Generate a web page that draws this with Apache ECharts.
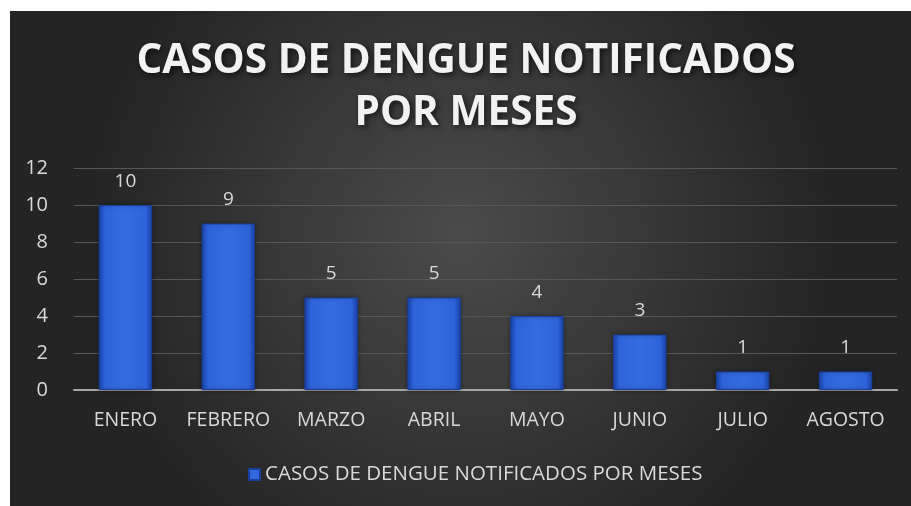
<!DOCTYPE html>
<html><head><meta charset="utf-8">
<script src="https://cdn.jsdelivr.net/npm/echarts@6/dist/echarts.min.js"></script>
<style>
html,body{margin:0;padding:0;background:#fff;width:911px;height:506px;overflow:hidden}
#c{position:absolute;left:10px;top:11px;width:901px;height:495px}
</style></head><body>
<div id="c"></div>
<script>
const categories = ['ENERO','FEBRERO','MARZO','ABRIL','MAYO','JUNIO','JULIO','AGOSTO'];
const values = [10, 9, 5, 5, 4, 3, 1, 1];
const seriesName = 'CASOS DE DENGUE NOTIFICADOS POR MESES';
const titleText = 'CASOS DE DENGUE NOTIFICADOS\nPOR MESES';
const font = 'Open Sans';

const chart = echarts.init(document.getElementById('c'));
const barColor = new echarts.graphic.LinearGradient(0,0,1,0,[
  {offset:0,color:'#1a46b0'},{offset:0.12,color:'#2e63da'},{offset:0.5,color:'#356be0'},{offset:0.88,color:'#2e63da'},{offset:1,color:'#1a46b0'}
]);
chart.setOption({
  backgroundColor: new echarts.graphic.RadialGradient(0.5,0.45,0.75,[
    {offset:0,color:'#4b4b4b'},{offset:1,color:'#242424'}
  ]),
  title:{
    text: titleText, left:451, top:19,
    textAlign:'center',
    textStyle:{color:'#f2f2f2',fontFamily:font,fontWeight:'bold',fontSize:40.5,lineHeight:52,align:'center',
      textShadowColor:'rgba(0,0,0,0.7)',textShadowBlur:6,textShadowOffsetX:2,textShadowOffsetY:2}
  },
  legend:{
    bottom:16, left:233, icon:'rect', itemWidth:11, itemHeight:11, itemGap:6,
    textStyle:{color:'#d9d9d9',fontFamily:font,fontSize:20.5},
    data:[seriesName]
  },
  grid:{left:64,right:14,top:157,bottom:116},
  xAxis:{
    type:'category', data:categories,
    axisLine:{lineStyle:{color:'#a6a6a6',width:2}},
    axisTick:{show:false},
    axisLabel:{color:'#d9d9d9',fontFamily:font,fontSize:19.5,margin:20,interval:0}
  },
  yAxis:{
    type:'value', min:0, max:12, interval:2,
    axisLine:{show:false}, axisTick:{show:false},
    axisLabel:{color:'#d9d9d9',fontFamily:font,fontSize:20,margin:26},
    splitLine:{lineStyle:{color:'#575757',width:1}}
  },
  series:[{
    name:seriesName, type:'bar', data:values, barWidth:'52%',
    itemStyle:{color:barColor, borderColor:'#1a3f9a', borderWidth:1,
      shadowColor:'rgba(0,0,0,0.4)', shadowBlur:4},
    label:{show:true,position:'top',distance:14,color:'#d9d9d9',fontFamily:font,fontSize:19}
  }]
});
</script>
</body></html>
